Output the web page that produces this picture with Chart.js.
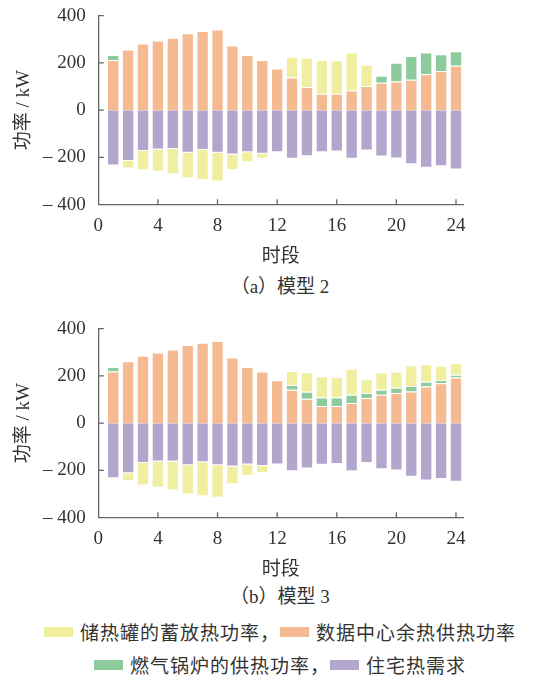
<!DOCTYPE html>
<html>
<head>
<meta charset="utf-8">
<script src="https://cdn.jsdelivr.net/npm/chart.js@4"></script>
<style>
  body { margin: 0; width: 543px; height: 682px; background: #fff; position: relative; overflow: hidden;
         font-family: "Liberation Serif", "Noto Sans CJK SC", serif; color: #333; }
  .box { position: absolute; left: 0; width: 543px; height: 270px; }
  .cap { position: absolute; left: 0; width: 560px; text-align: center; font-size: 19px; line-height: 22px; }
  .leg { position: absolute; left: 0; width: 560px; display: flex; justify-content: center; align-items: center;
         font-family: "Noto Sans CJK SC", sans-serif; font-size: 19px; letter-spacing: 1px; line-height: 24px; }
  .sw { display: inline-block; width: 29px; height: 10px; margin-right: 7px; }
</style>
</head>
<body>
<div class="box" style="top:0"><canvas id="chartA"></canvas></div>
<div class="cap" style="top:276px">（a）模型 2</div>
<div class="box" style="top:313px"><canvas id="chartB"></canvas></div>
<div class="cap" style="top:586px">（b）模型 3</div>
<div class="leg" style="top:620px"><span class="sw" style="background:#f0efa0"></span>储热罐的蓄放热功率，<span class="sw" style="background:#f6ba93"></span>数据中心余热供热功率</div>
<div class="leg" style="top:653px"><span class="sw" style="background:#8ccb9c"></span>燃气锅炉的供热功率，<span class="sw" style="background:#b2a6cc"></span>住宅热需求</div>
<script>
// 时段 1-24
const hours = [1,2,3,4,5,6,7,8,9,10,11,12,13,14,15,16,17,18,19,20,21,22,23,24];

// 模型 2
const dcHeat2  = [213,257,282,295,307,326,335,342,274,234,213,177,138,98,70,70,83,102,116,122,129,152,166,188];
const boiler2  = [21,0,0,0,0,0,0,0,0,0,0,0,0,0,0,0,0,0,30,79,100,92,71,62];
const storage2 = [0,-32,-81,-95,-107,-108,-127,-122,-66,-42,-22,0,88,125,142,141,161,90,0,0,0,0,0,0];
const demand2  = [-234,-215,-173,-166,-164,-180,-168,-180,-187,-178,-184,-178,-205,-195,-178,-175,-205,-171,-196,-204,-229,-244,-237,-251];

// 模型 3
const dcHeat3  = [219,262,286,299,312,331,341,348,278,238,219,182,142,103,73,73,86,107,120,128,134,155,169,193];
const boiler3  = [19,0,0,0,0,0,0,0,0,0,0,0,20,30,36,36,34,21,22,22,23,20,14,12];
const storage3 = [0,-33,-96,-110,-123,-124,-144,-138,-75,-49,-31,0,59,83,90,87,110,58,74,69,88,75,60,50];
const demand3  = [-233,-212,-168,-162,-162,-178,-165,-178,-183,-175,-181,-175,-203,-192,-176,-173,-203,-168,-195,-200,-227,-243,-236,-248];

const xTicks = [0,4,8,12,16,20,24];
const yTicks = [-400,-200,0,200,400];

const numFont = { family: "'Liberation Serif'", size: 19 };
const cjkFont = { family: "'Liberation Serif', 'Noto Sans CJK SC'", size: 19 };
const axisColor = "#666";

// 轴内侧刻度线
const innerTicks = {
  id: "innerTicks",
  afterDraw(chart) {
    const { ctx, chartArea, scales } = chart;
    ctx.save();
    ctx.strokeStyle = axisColor;
    ctx.lineWidth = 1.3;
    ctx.beginPath();
    yTicks.forEach((v) => {
      if (v === -400) return;
      const y = scales.y.getPixelForValue(v);
      ctx.moveTo(chartArea.left, y);
      ctx.lineTo(chartArea.left + 5.5, y);
    });
    xTicks.forEach((v) => {
      if (v === 0) return;
      const x = scales.x.getPixelForValue(v);
      ctx.moveTo(x, chartArea.bottom);
      ctx.lineTo(x, chartArea.bottom - 5.5);
    });
    ctx.stroke();
    ctx.restore();
  },
};

function makeChart(id, dc, boiler, storage, demand) {
  const pts = (arr) => hours.map((h, i) => ({ x: h, y: arr[i] }));
  const common = { stack: "s", barPercentage: 1, categoryPercentage: 0.83, borderColor: "rgba(255,255,255,0.85)", borderWidth: 1 };
  new Chart(document.getElementById(id), {
    type: "bar",
    data: {
      datasets: [
        { label: "数据中心余热供热功率", data: pts(dc), backgroundColor: "#f6ba93", ...common },
        { label: "燃气锅炉的供热功率", data: pts(boiler), backgroundColor: "#8ccb9c", ...common },
        { label: "住宅热需求", data: pts(demand), backgroundColor: "#b2a6cc", ...common },
        { label: "储热罐的蓄放热功率", data: pts(storage), backgroundColor: "#f0efa0", ...common },
      ],
    },
    options: {
      responsive: true,
      maintainAspectRatio: false,
      animation: false,
      layout: { padding: { top: 15.7, right: 80, left: 0, bottom: 0 } },
      plugins: { legend: { display: false }, tooltip: { enabled: false } },
      scales: {
        x: {
          type: "linear",
          offset: false,
          min: 0,
          max: 24.47,
          grid: { display: false, drawTicks: false },
          border: { display: true, color: axisColor, width: 1.3 },
          ticks: { stepSize: 4, includeBounds: false, padding: 10, color: "#333", font: numFont },
          title: { display: true, text: "时段", color: "#333", font: cjkFont, padding: { top: 0, bottom: 2 } },
          afterFit: (s) => { s.height = 65.3; s.paddingLeft = 0; s.paddingRight = 0; },
        },
        y: {
          stacked: true,
          min: -400,
          max: 400,
          grid: { display: false, drawTicks: false },
          border: { display: true, color: axisColor, width: 1.3 },
          ticks: {
            stepSize: 200,
            padding: 12.5,
            color: "#333",
            font: numFont,
            callback: (v) => (v < 0 ? "– " + Math.abs(v) : String(v)),
          },
          title: { display: true, text: "功率 / kW", color: "#333", font: cjkFont, padding: { top: 13, bottom: 0 } },
          afterFit: (s) => { s.width = 98.3; s.paddingTop = 0; s.paddingBottom = 0; },
        },
      },
    },
    plugins: [innerTicks],
  });
}

makeChart("chartA", dcHeat2, boiler2, storage2, demand2);
makeChart("chartB", dcHeat3, boiler3, storage3, demand3);
</script>
</body>
</html>
